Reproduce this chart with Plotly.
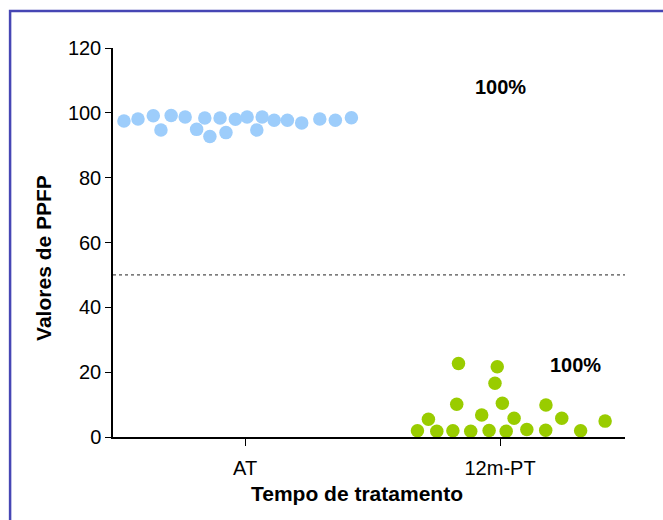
import plotly.graph_objects as go

categories = ["AT", "12m-PT"]

# AT group: horizontal jitter offsets (category units) and values
at_offsets = [-0.475, -0.42, -0.36, -0.33, -0.29, -0.235, -0.19, -0.158, -0.138, -0.098,
              -0.075, -0.038, 0.008, 0.067, 0.046, 0.114, 0.166, 0.222, 0.293, 0.354, 0.417]
at_values = [97.5, 98.1, 99.1, 94.7, 99.2, 98.7, 94.9, 98.4, 92.7, 98.4,
             93.9, 98.0, 98.7, 98.7, 94.7, 97.7, 97.7, 96.9, 98.1, 97.7, 98.5]

# 12m-PT group
pt_offsets = [-0.163, -0.011, -0.02, -0.17, 0.009, 0.18, -0.281, -0.072, 0.055, 0.242,
              0.412, -0.324, -0.248, -0.185, -0.115, -0.043, 0.024, 0.105, 0.179, 0.316]
pt_values = [22.7, 21.7, 16.6, 10.1, 10.4, 9.9, 5.5, 6.8, 5.8, 5.8,
             4.9, 1.9, 1.8, 1.9, 1.8, 2.0, 1.8, 2.3, 2.1, 1.9]

y_ticks = [0, 20, 40, 60, 80, 100, 120]
cutoff = 50
pct_labels = ["100%", "100%"]
pct_pos = [(1.0, 108), (1.294, 22.3)]

FONT = "Arial, Liberation Sans, sans-serif"

fig = go.Figure()
fig.add_trace(go.Scatter(
    x=[0 + o for o in at_offsets], y=at_values, mode="markers",
    marker=dict(size=13.5, color="#9dcdfb", line=dict(width=0)),
    cliponaxis=False, showlegend=False))
fig.add_trace(go.Scatter(
    x=[1 + o for o in pt_offsets], y=pt_values, mode="markers",
    marker=dict(size=13.5, color="#99cc00", line=dict(width=0)),
    cliponaxis=False, showlegend=False))

fig.add_shape(type="line", xref="paper", yref="y", x0=0, x1=1, y0=cutoff, y1=cutoff,
              line=dict(color="#222222", width=1, dash="dot"))

# frame (left and top border)
fig.add_shape(type="path", xref="paper", yref="paper",
              path="M -0.201 -0.3 L -0.201 1.095 L 1.2 1.095",
              line=dict(color="#4646b4", width=2.5))

for txt, (xx, yy) in zip(pct_labels, pct_pos):
    fig.add_annotation(x=xx, y=yy, text=f"<b>{txt}</b>", showarrow=False,
                       xanchor="center", yanchor="middle",
                       font=dict(family=FONT, size=20, color="black"))

fig.add_annotation(xref="paper", yref="paper", x=-0.137, y=0.46, text="<b>Valores de PPFP</b>",
                   textangle=-90, showarrow=False, xanchor="center", yanchor="middle",
                   font=dict(family=FONT, size=21, color="black"))
fig.add_annotation(xref="paper", yref="paper", x=0.477, y=-0.144, text="<b>Tempo de tratamento</b>",
                   showarrow=False, xanchor="center", yanchor="middle",
                   font=dict(family=FONT, size=21, color="black"))

fig.update_layout(
    width=663, height=520,
    margin=dict(l=113, r=38, t=48, b=83),
    paper_bgcolor="white", plot_bgcolor="white",
    font=dict(family=FONT, color="black"),
    xaxis=dict(range=[-0.518, 1.49], tickvals=[0, 1], ticktext=categories,
               showline=True, linecolor="black", linewidth=1.5, ticks="outside",
               ticklen=7, tickcolor="black", showgrid=False, zeroline=False,
               ticklabelstandoff=5,
               tickfont=dict(size=20, family=FONT, color="black")),
    yaxis=dict(range=[0, 120], tickvals=y_ticks, showline=True, linecolor="black",
               linewidth=1.5, ticks="outside", ticklen=6, tickcolor="black",
               showgrid=False, zeroline=False,
               tickfont=dict(size=20, family=FONT, color="black")),
)

fig.write_html("out.html", config={"displayModeBar": False},
               post_script="document.body.style.margin='0';")
